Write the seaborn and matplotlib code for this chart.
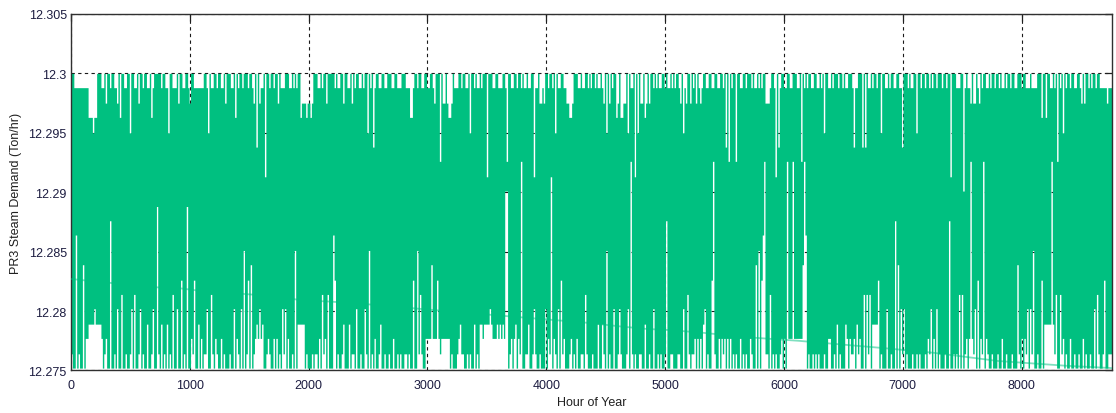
import numpy as np
import matplotlib
matplotlib.use("Agg")
import matplotlib.pyplot as plt
import seaborn as sns

# Metered steam demand levels (Ton/hr), highest first
levels = [12.3, 12.2988, 12.2975, 12.2963, 12.2950, 12.2938, 12.2926, 12.2913,
          12.2901, 12.2888, 12.2876, 12.2864, 12.2851, 12.2839, 12.2826,
          12.2814, 12.2802, 12.2789, 12.2777, 12.2764, 12.2752]

# Half-day peak demand, one string per month: steps down from the top level (base 36)
peak_steps = [
    "0011111111" "1133343300" "0110200100" "1120300110" "0400110200" "1001103100" "0",
    "0010011400" "1110200110" "0120011111" "1100140110" "0100110200" "0110301001" "0",
    "0010012050" "2110700100" "1002011100" "0110101003" "2223223200" "0110100200" "0",
    "0010110020" "0110201001" "1010040105" "1001100110" "0011001110" "0011133100" "1",
    "0011001100" "1200060220" "2332011100" "1001104001" "0110100070" "0011001110" "0",
    "1600110010" "0101101100" "7110221200" "1001040110" "0112233200" "0110110010" "1",
    "0010110120" "4020100320" "3322040110" "7040220320" "2001010110" "0101101010" "0",
    "1204120020" "1020121001" "1001100110" "0105060100" "6001100100" "0101101010" "0",
    "2221001705" "1001100110" "0011060101" "0011001101" "0400110100" "0100101100" "0",
    "1511000505" "0110100100" "4001101001" "1001150001" "0110040010" "0100101001" "0",
    "0010010070" "0011100810" "1120220120" "1001101001" "0010110100" "1001100010" "0",
    "1110111100" "0300300110" "1060104010" "0100110012" "0200101001" "0011111211" "1",
]

# Half-day minimum demand, one string per month: steps up from the bottom level (base 36)
low_steps = [
    "1009010070" "2233334333" "3201200a00" "1040050010" "0140500140" "1003001400" "b",
    "1030103010" "5004006010" "b002160030" "2011400510" "2100201000" "1004021040" "8",
    "0160701232" "4230012100" "2020104140" "2001080333" "3301000101" "1020512050" "0",
    "0960100130" "0030110400" "1004108010" "2001300100" "1002001010" "0110100600" "8",
    "1510022227" "2226212222" "2201000123" "1100101003" "0103323333" "4322232323" "2",
    "cc01202302" "1e00113001" "4100100040" "21d0210406" "1200012010" "2001105100" "0",
    "1000300310" "8010040014" "1000140e10" "1001100300" "1004001010" "01a0011000" "1",
    "1004005101" "1202020340" "1006e10020" "2120202010" "1002010100" "2100708069" "e",
    "1105010100" "12020e222e" "2222227e90" "1001010100" "0100220010" "3010003202" "1",
    "1203120050" "5150333360" "1000400100" "a070414010" "0010010100" "0102140204" "0",
    "1000100a00" "1010505012" "02e2140602" "1e02100100" "0100200100" "0100071020" "2",
    "1404180010" "06033333e3" "1500512010" "0200100100" "2010010040" "5100160011" "1",
]

# Slowly falling base-load trend
trend_hours = [0, 300, 720, 930, 1090, 1510, 1760, 1940, 2180, 2590, 2810, 3150,
               4120, 4360, 4630, 4840, 5040, 5290, 5490, 5690, 5830, 6120, 6820,
               7250, 7800, 8370, 8760]
trend_values = [12.2827, 12.2824, 12.2820, 12.2819, 12.2817, 12.2814, 12.2812,
                12.2809, 12.2808, 12.2805, 12.2803, 12.2800, 12.2792, 12.2790,
                12.2787, 12.2785, 12.2784, 12.2782, 12.2780, 12.2778, 12.2777,
                12.2775, 12.2769, 12.2765, 12.2758, 12.2754, 12.2752]

x_ticks = [0, 1000, 2000, 3000, 4000, 5000, 6000, 7000, 8000]
y_ticks = [12.275, 12.28, 12.285, 12.29, 12.295, 12.3, 12.305]
y_tick_labels = ["12.275", "12.28", "12.285", "12.29", "12.295", "12.3", "12.305"]
hours_per_month = 730
n_hours = 8760


def hourly(strings, from_top):
    lv = np.asarray(levels)
    parts = []
    for s in strings:
        steps = np.array([int(c, 36) for c in s])
        idx = steps if from_top else (len(lv) - 1) - steps
        vals = lv[idx]
        pos = (np.arange(hours_per_month) * len(s)) // hours_per_month
        parts.append(vals[pos])
    out = np.concatenate(parts)
    return np.append(out, out[-1])


hi = hourly(peak_steps, True)
lo = hourly(low_steps, False)
hours = np.arange(n_hours + 1)

sns.set_style("white")
plt.rcParams["font.family"] = ["Liberation Sans", "DejaVu Sans"]

fig = plt.figure(figsize=(11.16, 4.14), dpi=100)
ax = fig.add_axes([0.0636, 0.1027, 0.9328, 0.8611])

green = "#00C080"
ax.fill_between(hours, lo, hi, step="post", color=green, linewidth=0,
                antialiased=True, zorder=2)
sns.lineplot(x=trend_hours, y=trend_values, ax=ax, color=green, alpha=0.5,
             linewidth=1.3, zorder=3)

ax.set_xlim(0, n_hours)
ax.set_ylim(12.275, 12.305)
ax.set_xticks(x_ticks)
ax.set_xticklabels([str(t) for t in x_ticks])
ax.set_yticks(y_ticks)
ax.set_yticklabels(y_tick_labels)

ax.set_axisbelow(True)
ax.grid(True, color="#1a1a1a", linewidth=0.8, linestyle=(0, (3, 3)))

for side in ["left", "right", "top", "bottom"]:
    ax.spines[side].set_color("#303030")
    ax.spines[side].set_linewidth(1.0)

label_color = "#1c1c40"
ax.tick_params(axis="both", direction="in", length=5, width=0.9, color="#202020",
               top=True, right=True, labelsize=9, labelcolor=label_color)
ax.tick_params(axis="x", pad=6)
ax.tick_params(axis="y", pad=3)

ax.set_xlabel("Hour of Year", fontsize=9, color="#202020", labelpad=4)
ax.set_ylabel("PR3 Steam Demand (Ton/hr)", fontsize=9, color="#202020", labelpad=5)

fig.savefig("out.png", dpi=100)
